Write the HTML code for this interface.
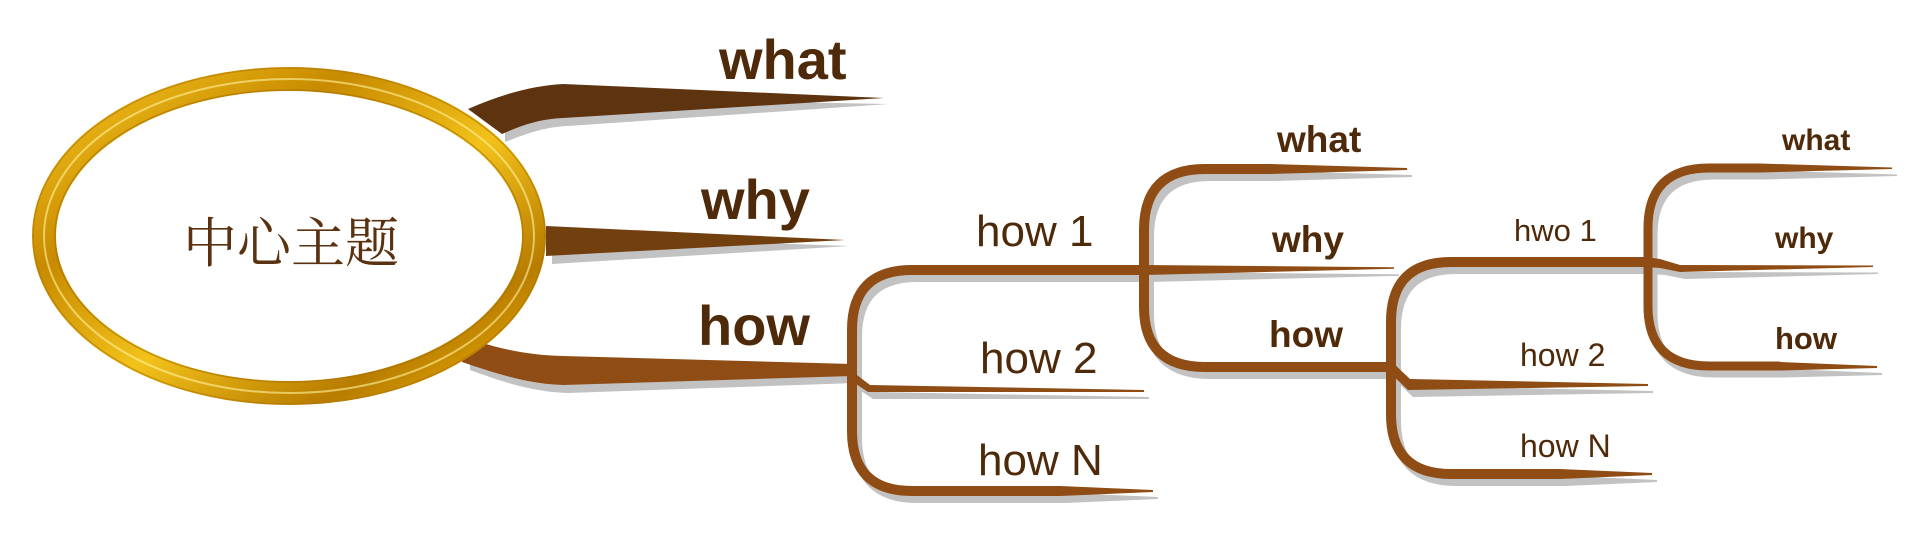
<!DOCTYPE html>
<html><head><meta charset="utf-8">
<style>
html,body{margin:0;padding:0;background:#fff;}
svg{display:block;}
text{font-family:"Liberation Sans",Arial,sans-serif;fill:#4e2a0a;}
.b{font-weight:bold;}
</style></head>
<body>
<svg width="1920" height="536" viewBox="0 0 1920 536" xmlns="http://www.w3.org/2000/svg">
<defs>
<linearGradient id="gold" x1="0" y1="0" x2="1" y2="1">
<stop offset="0" stop-color="#f7c820"/>
<stop offset="0.3" stop-color="#c88a00"/>
<stop offset="0.55" stop-color="#f2c21a"/>
<stop offset="0.8" stop-color="#b87c00"/>
<stop offset="1" stop-color="#f0b400"/>
</linearGradient>
<g id="tree">
  <path d="M1144,270 L912,270 Q852,270 852,330 L852,431 Q852,491 912,491 L1060,491" fill="none" stroke-width="10"/>
  <polygon points="1144,265 1394,267.2 1394,268.8 1144,275" stroke="none"/>
  <polygon points="1060,486 1153,490 1153,492 1060,496" stroke="none"/>
  <polygon points="853,372 870,385 1144,390 1144,392 868,392 850,380" stroke="none"/>
  <path d="M1270,169 L1205,169 Q1144,169 1144,230 L1144,307 Q1144,367 1205,367 L1391,367" fill="none" stroke-width="10"/>
  <polygon points="1270,164 1407,168 1407,170 1270,174" stroke="none"/>
  <path d="M1645,262 L1451,262 Q1391,262 1391,322 L1391,414 Q1391,474 1451,474 L1560,474" fill="none" stroke-width="10"/>
  <polygon points="1560,469 1652,473 1652,475 1560,479" stroke="none"/>
  <polygon points="1392,362 1410,379 1648,384 1648,386 1408,390 1389,372" stroke="none"/>
  <path d="M1760,168 L1709,168 Q1648,168 1648,228 L1648,306 Q1648,366 1709,366 L1780,366" fill="none" stroke-width="9"/>
  <polygon points="1760,163.5 1892,167.5 1892,169 1760,172.5" stroke="none"/>
  <polygon points="1780,362 1877,366 1877,368 1780,370.5" stroke="none"/>
  <polygon points="1645,257 1660,259 1680,265 1873,265.5 1873,267 1680,272 1660,268 1645,267" stroke="none"/>
</g>
</defs>

<g fill="#c2c2c2" stroke="#c2c2c2">
  <path d="M505,120 C530,107 545,100 568,98 L889,104 L568,126 C545,127 528,133 505,142 Z" stroke="none"/>
  <path d="M552,236 L850,246 L552,264 Z" stroke="none"/>
  <path d="M470,347 C505,360 535,364 568,366 L856,372 L856,383 L568,393 C535,392 505,383 470,370 Z" stroke="none"/>
  <use href="#tree" transform="translate(5,7)"/>
</g>

<path d="M468,109 C500,95 530,86 563,84 L884,98 L563,118 C540,119 522,125 502,134 Z" fill="#5e3410"/>
<path d="M546,226 L845,240 L546,256 Z" fill="#72400f"/>
<path d="M462,336 C500,350 530,355 563,356 L852,364 L852,376 L563,385 C530,384 500,375 462,362 Z" fill="#8f4c14"/>

<g fill="#8f4c14" stroke="#8f4c14">
  <use href="#tree"/>
</g>

<ellipse cx="291" cy="239" rx="250" ry="161" fill="none" stroke="#d8d8d8" stroke-width="6" opacity="0.6"/>
<ellipse cx="289" cy="236" rx="245" ry="157" fill="#fff" stroke="url(#gold)" stroke-width="24"/>
<ellipse cx="289" cy="236" rx="245" ry="157" fill="none" stroke="#fff3a0" stroke-width="2" opacity="0.6"/>
<ellipse cx="289" cy="236" rx="234" ry="146" fill="none" stroke="#a87200" stroke-width="1.5" opacity="0.6"/>
<ellipse cx="289" cy="236" rx="256" ry="168" fill="none" stroke="#b07800" stroke-width="1.5" opacity="0.6"/>
<text x="291" y="262" text-anchor="middle" font-size="54" style="font-family:'Liberation Serif','Noto Serif CJK SC',serif;fill:#5a3210">中心主题</text>

<text class="b" x="719" y="79" font-size="56">what</text>
<text class="b" x="701" y="219" font-size="56">why</text>
<text class="b" x="698" y="345" font-size="56">how</text>

<text x="976" y="246" font-size="44">how 1</text>
<text x="980" y="373" font-size="44">how 2</text>
<text x="978" y="475" font-size="44">how N</text>

<text class="b" x="1277" y="152" font-size="37">what</text>
<text class="b" x="1272" y="252" font-size="37">why</text>
<text class="b" x="1269" y="347" font-size="37">how</text>

<text x="1514" y="241" font-size="31">hwo 1</text>
<text x="1520" y="366" font-size="32">how 2</text>
<text x="1520" y="457" font-size="32">how N</text>

<text class="b" x="1782" y="150" font-size="30">what</text>
<text class="b" x="1775" y="248" font-size="30">why</text>
<text class="b" x="1775" y="349" font-size="31">how</text>
</svg>
</body></html>
